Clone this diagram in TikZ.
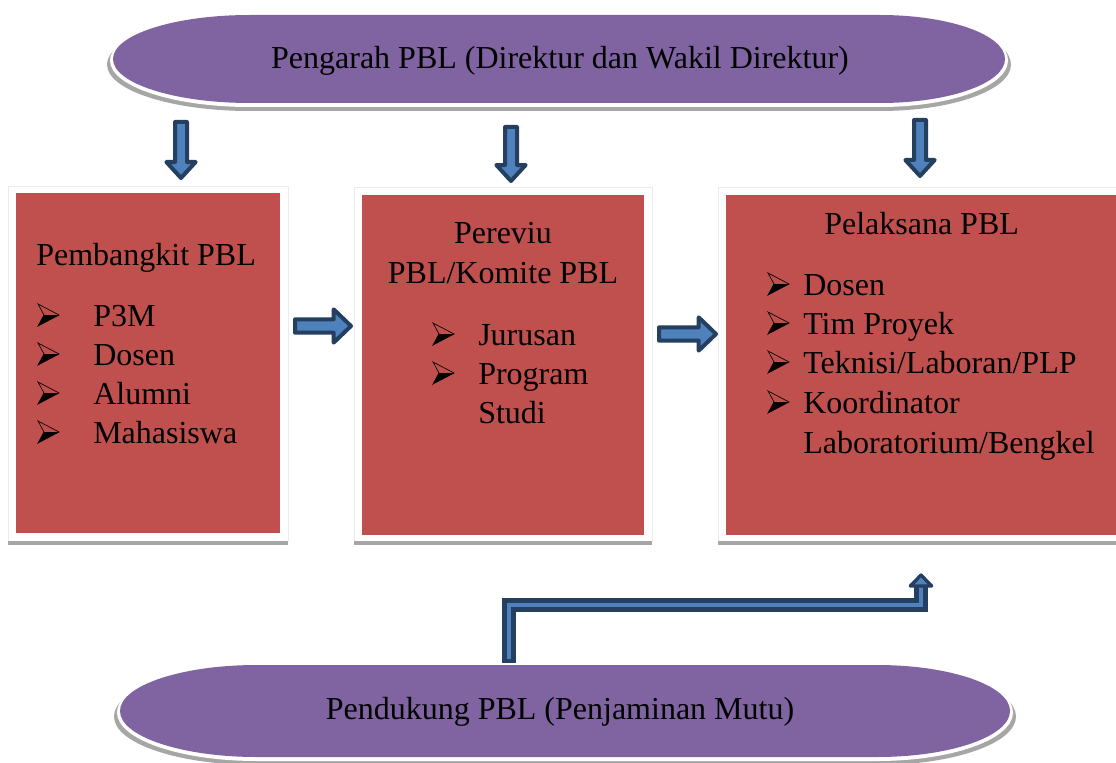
\documentclass[tikz,border=0pt]{standalone}
\usepackage{fontspec}
\setmainfont{Liberation Serif}
\usetikzlibrary{calc,fit}
\definecolor{pur}{HTML}{8064A2}
\definecolor{rd}{HTML}{C0504D}
\definecolor{nav}{HTML}{243F60}
\definecolor{lb}{HTML}{4F81BD}
\definecolor{shd}{HTML}{A6A6A6}
\definecolor{frm}{HTML}{EBEBEB}
\newcommand\pillpath[6]{(#1,#3) -- (#2,#3) arc[start angle=-90,end angle=90,x radius=#6,y radius={(#4-#3)/2}] -- (#1,#4) arc[start angle=90,end angle=270,x radius=#5,y radius={(#4-#3)/2}] -- cycle}
\newcommand\downblk[2]{%
  \draw[blk] let \p1=(#1), \p2=(#2) in
    (\x2-4.5pt,\y1) -- (\x2+4.5pt,\y1) -- (\x2+4.5pt,\y2+12pt) -- (\x2+11pt,\y2+12pt)
    -- (\x2,\y2) -- (\x2-11pt,\y2+12pt) -- (\x2-4.5pt,\y2+12pt) -- cycle;}
\newcommand\rightblk[2]{%
  \draw[blk] let \p1=(#1), \p2=(#2) in
    (\x1,\y2+5pt) -- (\x1,\y2-5pt) -- (\x2-13pt,\y2-5pt) -- (\x2-13pt,\y2-12.5pt)
    -- (\x2,\y2) -- (\x2-13pt,\y2+12.5pt) -- (\x2-13pt,\y2+5pt) -- cycle;}
\tikzset{
  txt/.style={anchor=base west, inner sep=0pt, font=\fontsize{24}{29}\selectfont},
  redbox/.style={fill=rd, draw=none, inner sep=0pt},
  framebox/.style={fill=white, draw=frm, line width=0.4pt, inner sep=0pt},
  blk/.style={fill=lb, draw=nav, line width=3pt, line join=round},
  pics/bul/.style={code={
    \draw[line width=0.5pt, line join=miter, fill=rd] (1,-22) -- (22,-11) -- (1,0) -- (7,-11) -- cycle;
    \fill[black] (7,-11) -- (22,-11) -- (1,0) -- cycle;
  }}
}
\begin{document}
\begin{tikzpicture}[x=0.75pt,y=-0.75pt]
\useasboundingbox (0,0) rectangle (1116,763);
\clip (0,0) rectangle (1116,763);
% ---- top pill
\fill[shd] \pillpath{250}{880}{18}{111}{143}{131};
\fill[white] \pillpath{250}{880}{14}{107}{140}{128};
\fill[pur] \pillpath{250}{880}{15}{103}{137}{125};
\node[txt, anchor=base] (top) at (560,69) {Pengarah PBL (Direktur dan Wakil Direktur)};
% ---- bottom pill
\fill[shd] \pillpath{257}{877}{668}{765}{143}{139};
\fill[white] \pillpath{257}{877}{664}{761}{140}{136};
\fill[pur] \pillpath{257}{877}{665}{757}{137}{133};
\node[txt, anchor=base] (bot) at (560,719) {Pendukung PBL (Penjaminan Mutu)};
% ---- frames and shadows
\node[framebox, fit={(8,186) (288,541)}] (f1) {};
\fill[shd] (8,541) rectangle (288,545);
\node[framebox, fit={(354,187) (652,541)}] (f2) {};
\fill[shd] (354,541) rectangle (652,545);
\node[framebox, fit={(718,187) (1130,541)}] (f3) {};
\fill[shd] (718,541) rectangle (1130,545);
% ---- red boxes
\node[redbox, fit={(16,193) (280,533)}] (b1) {};
\node[redbox, fit={(362,195) (644,535)}] (b2) {};
\node[redbox, fit={(726,195) (1116,535)}] (b3) {};
% ---- box 1 text
\node[txt] (t1) at (36,265) {Pembangkit PBL};
\pic at (37,326) {bul}; \node[txt] (t1a) at (93,326) {P3M};
\pic at (37,365) {bul}; \node[txt] (t1b) at (93,365) {Dosen};
\pic at (37,404) {bul}; \node[txt] (t1c) at (93,404) {Alumni};
\pic at (37,443) {bul}; \node[txt] (t1d) at (93,443) {Mahasiswa};
% ---- box 2 text
\node[txt, anchor=base] (t2) at (503,243) {Pereviu};
\node[txt, anchor=base] (t2b) at (503,283) {PBL/Komite PBL};
\pic at (432,345) {bul}; \node[txt] (t2c) at (478,345) {Jurusan};
\pic at (432,384) {bul}; \node[txt] (t2d) at (478,384) {Program};
\node[txt] (t2e) at (478,423) {Studi};
% ---- box 3 text
\node[txt] (t3) at (824,234) {Pelaksana PBL};
\pic at (767,295) {bul}; \node[txt] (t3a) at (803,295) {Dosen};
\pic at (767,334) {bul}; \node[txt] (t3b) at (803,334) {Tim Proyek};
\pic at (767,373) {bul}; \node[txt] (t3c) at (803,373) {Teknisi/Laboran/PLP};
\pic at (767,413) {bul}; \node[txt] (t3d) at (803,413) {Koordinator};
\node[txt] (t3e) at (803,453) {Laboratorium/Bengkel};
% ---- arrow end points
\coordinate (d1s) at (181,122); \coordinate (d1e) at (181,178);
\coordinate (d2s) at (511,127); \coordinate (d2e) at (511,181);
\coordinate (d3s) at (920,120); \coordinate (d3e) at (920,176);
\coordinate (r1s) at (295,326); \coordinate (r1e) at (351,326);
\coordinate (r2s) at (659,334); \coordinate (r2e) at (716,334);
\coordinate (u1) at (509,663); \coordinate (u2) at (921,605); \coordinate (u3) at (921,586);
\coordinate (u4) at (921,575);
% ---- block arrows
\downblk{d1s}{d1e}
\downblk{d2s}{d2e}
\downblk{d3s}{d3e}
\rightblk{r1s}{r1e}
\rightblk{r2s}{r2e}
% ---- bent arrow
\draw[nav, line width=10.5pt, line join=miter] (u1) |- (u2) -- (u3);
\draw[lb, line width=3.5pt, line join=miter] ($(u1)+(0,-4)$) |- (u2) -- (u3);
\draw[blk, line width=2.5pt] let \p1=(u3), \p2=(u4) in
  (\x1-8pt,\y1) -- (\x2,\y2) -- (\x1+8pt,\y1) -- cycle;
\end{tikzpicture}
\end{document}
